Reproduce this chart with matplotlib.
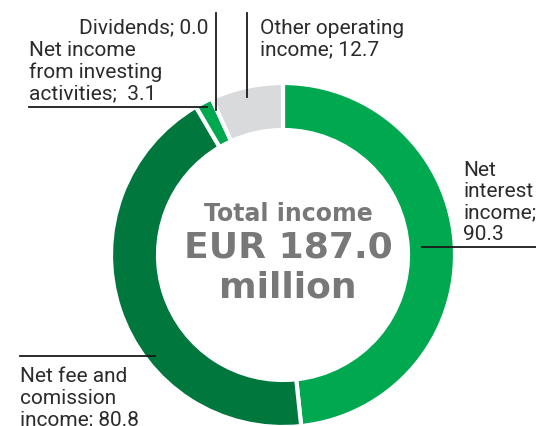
import matplotlib.pyplot as plt

# income split, EUR million
names = ['Net\ninterest\nincome', 'Net fee and\ncomission\nincome',
         'Net income\nfrom investing\nactivities', 'Dividends',
         'Other operating\nincome']
values = [90.3, 80.8, 3.1, 0.0, 12.7]
seps = [';\n', '; ', ';  ', '; ', '; ']
colors = ['#00a84f', '#00773d', '#00a84f', '#00a84f', '#d9dadc']
total = 187.0

W, H = 536, 427


def py(y):
    # pixel row (from top) -> data y
    return H - y


fig = plt.figure(figsize=(W / 100, H / 100), dpi=100)
ax = fig.add_axes([0, 0, 1, 1])

ax.pie(values, colors=colors, startangle=90, counterclock=False,
       radius=172, center=(283, py(256)),
       wedgeprops=dict(width=47, edgecolor='white', linewidth=3))
ax.set_xlim(0, W)
ax.set_ylim(0, H)
ax.set_aspect('equal')
ax.axis('off')

labels = [f'{n}{s}{v:.1f}' for n, s, v in zip(names, seps, values)]

# label anchor (x, baseline of last line), alignment
lab_pos = [(463, 240, 'left'), (20, 425, 'left'), (29, 99, 'left'),
           (208, 33, 'right'), (260, 55, 'left')]
for txt, (x, y, ha) in zip(labels, lab_pos):
    ax.text(x, py(y), txt, ha=ha, va='baseline', fontsize=15,
            family='Roboto', color='#2b2b2b', linespacing=1.16)

# leader lines
lc = dict(color='#1a1a1a', lw=1.3)
ax.plot([422, 536], [py(248), py(248)], **lc)
ax.plot([20, 155], [py(357), py(357)], **lc)
ax.plot([29, 207], [py(108), py(108)], **lc)
ax.plot([216, 216], [py(14), py(111)], **lc)
ax.plot([247, 247], [py(14), py(98)], **lc)

# centre
cx = 288
ax.text(cx, py(221), 'Total income', ha='center', va='baseline',
        fontsize=17, fontweight='bold', color='#787878')
ax.text(cx, py(258), f'EUR {total:.1f}', ha='center', va='baseline',
        fontsize=26, fontweight='bold', color='#787878')
ax.text(cx, py(298), 'million', ha='center', va='baseline',
        fontsize=26, fontweight='bold', color='#787878')

fig.savefig('out.png', dpi=100)
